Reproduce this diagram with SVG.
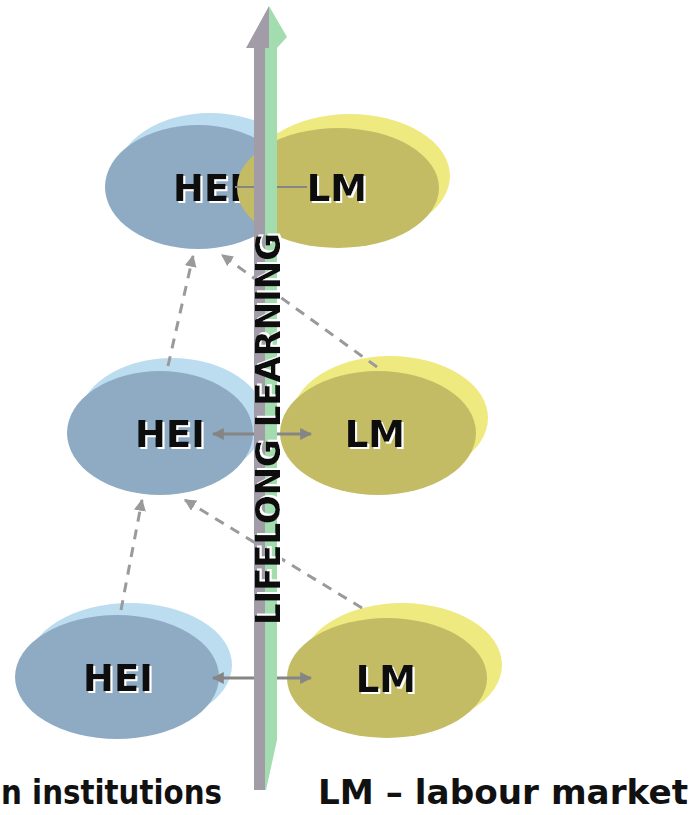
<svg xmlns="http://www.w3.org/2000/svg" width="692" height="815" viewBox="0 0 692 815">
<style>
.hei-back{fill:#bcdcf0}
.hei-front{fill:#8eabc3}
.lm-back{fill:#eeea80}
.lm-front{fill:#c3bc64}
.lbl{font-family:"DejaVu Sans","Verdana",sans-serif;font-weight:bold;font-size:37px;text-anchor:middle;fill:#111111;filter:url(#wsh)}
.link{stroke:#858585;stroke-width:3;fill:none}
.dash{stroke:#9a9a9a;stroke-width:3;fill:none;stroke-dasharray:10 8}
.cap{font-family:"DejaVu Sans","Verdana",sans-serif;font-weight:bold;font-size:33px;fill:#111111}
</style>
<defs>
<filter id="wsh" x="-20%" y="-30%" width="140%" height="160%">
<feDropShadow dx="2" dy="2" stdDeviation="0.4" flood-color="#ffffff" flood-opacity="1"/>
</filter>
<marker id="ah" viewBox="0 0 10 10" refX="9" refY="5" markerWidth="4" markerHeight="4" orient="auto-start-reverse" markerUnits="strokeWidth">
<path d="M0,0 L10,5 L0,10 z" fill="#858585"/>
</marker>
<marker id="dh" viewBox="0 0 10 10" refX="9" refY="5" markerWidth="4" markerHeight="4" orient="auto" markerUnits="strokeWidth">
<path d="M0,0 L10,5 L0,10 z" fill="#9a9a9a"/>
</marker>
</defs>
<rect width="692" height="815" fill="#ffffff"/>

<g id="hei-top">
<ellipse class="hei-back" cx="210" cy="175" rx="93" ry="62"/>
<ellipse class="hei-front" cx="198" cy="187" rx="93" ry="62"/>
<text class="lbl" x="208" y="201">HEI</text>
</g>
<g id="lm-top">
<ellipse class="lm-back" cx="350" cy="176" rx="100" ry="62"/>
<ellipse class="lm-front" cx="338" cy="188" rx="101" ry="60"/>
<text class="lbl" x="337" y="201">LM</text>
</g>

<g id="hei-mid">
<ellipse class="hei-back" cx="172" cy="420" rx="93" ry="62"/>
<ellipse class="hei-front" cx="160" cy="433" rx="93" ry="62"/>
<text class="lbl" x="170" y="447">HEI</text>
</g>
<g id="lm-mid">
<ellipse class="lm-back" cx="390" cy="418" rx="98" ry="62"/>
<ellipse class="lm-front" cx="378" cy="433" rx="98" ry="62"/>
<text class="lbl" x="375" y="447">LM</text>
</g>

<g id="hei-bot">
<ellipse class="hei-back" cx="130" cy="665" rx="102" ry="62"/>
<ellipse class="hei-front" cx="117" cy="677" rx="102" ry="62"/>
<text class="lbl" x="118" y="691">HEI</text>
</g>
<g id="lm-bot">
<ellipse class="lm-back" cx="402" cy="665" rx="100" ry="62"/>
<ellipse class="lm-front" cx="387" cy="678" rx="100" ry="60"/>
<text class="lbl" x="386" y="692">LM</text>
</g>

<g id="connectors">
<line x1="235" y1="187" x2="307" y2="187" stroke="#858585" stroke-width="2"/>
<line class="link" x1="213" y1="434" x2="311" y2="434" marker-start="url(#ah)" marker-end="url(#ah)"/>
<line class="link" x1="213" y1="678" x2="311" y2="678" marker-start="url(#ah)" marker-end="url(#ah)"/>
<line class="dash" x1="168" y1="366" x2="193" y2="256" marker-end="url(#dh)"/>
<line class="dash" x1="377" y1="367" x2="222" y2="255" marker-end="url(#dh)"/>
<line class="dash" x1="121" y1="610" x2="142" y2="500" marker-end="url(#dh)"/>
<line class="dash" x1="362" y1="608" x2="185" y2="500" marker-end="url(#dh)"/>
</g>

<g id="lifelong-arrow">
<rect x="254" y="45" width="11" height="745" fill="#a29ca8"/>
<path d="M265,45 L277,45 L277,740 L266,790 L265,790 z" fill="#a3dcae"/>
<path d="M246,48 L269,6 L269,48 z" fill="#a29ca8"/>
<path d="M269,6 L287,37 L277,48 L269,48 z" fill="#a3dcae"/>
<text transform="translate(280,429) rotate(-90)" font-family="DejaVu Sans, Verdana, sans-serif" font-weight="bold" font-size="34" fill="#111111" text-anchor="middle" textLength="392" lengthAdjust="spacingAndGlyphs" filter="url(#wsh)">LIFELONG LEARNING</text>
</g>

<g id="captions">
<text class="cap" x="1" y="804" textLength="221" lengthAdjust="spacingAndGlyphs">n institutions</text>
<text class="cap" x="318" y="804" textLength="370" lengthAdjust="spacingAndGlyphs">LM – labour market</text>
</g>
</svg>
